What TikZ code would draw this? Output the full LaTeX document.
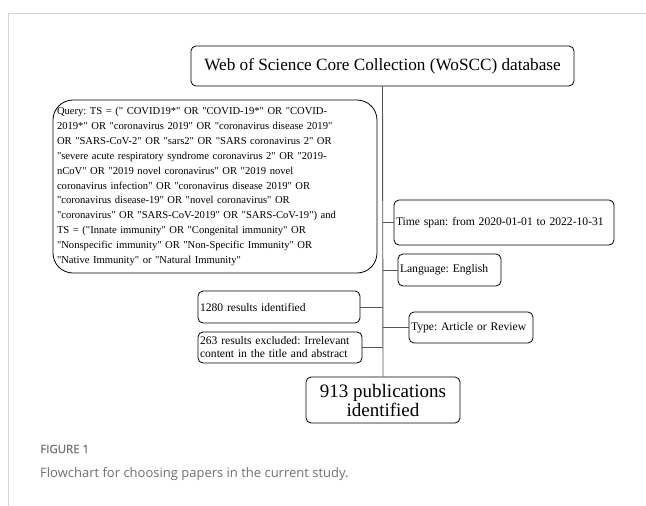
\documentclass[tikz,border=0pt]{standalone}
\usepackage{fontspec}
\setmainfont{Liberation Serif}[Ligatures=TeXOff]
\newfontfamily\captionfont{Open Sans}
\newfontfamily\fignumfont{Open Sans}[FakeBold=1.2]
\definecolor{framegrey}{HTML}{D2D2D2}
\definecolor{capgrey}{HTML}{707070}
\definecolor{linkgrey}{HTML}{555555}
\frenchspacing

\begin{document}
\begin{tikzpicture}[x=1pt,y=-1pt,
		box/.style={draw, rounded corners=5pt, line width=0.8pt, inner sep=2pt},
		leftbox/.style={box, align=left, font=\fontsize{11.6}{13.6}\selectfont},
		link/.style={draw=linkgrey, line width=0.9pt}]
		\useasboundingbox (0,0) rectangle (646,506);
		% page frame
		\draw[framegrey, line width=1pt] (8,506) -- (8,13) -- (646,13);
		% boxes
		\node[box, minimum width=383pt, minimum height=40pt, font=\fontsize{17.2}{19}\selectfont] (db) at (382.5,66) {Web of Science Core Collection (WoSCC) database};
		\node[leftbox, rounded corners=20pt, text width=316pt, minimum height=173pt, inner sep=4pt, font=\fontsize{10.6}{14.9}\selectfont] (query) at (215,186.5) {Query: TS = (" COVID19*" OR "COVID-19*" OR "COVID-\\
			2019*" OR "coronavirus 2019" OR "coronavirus disease 2019"\\
			OR "SARS-CoV-2" OR "sars2" OR "SARS coronavirus 2" OR\\
			"severe acute respiratory syndrome coronavirus 2" OR "2019-\\
			nCoV" OR "2019 novel coronavirus" OR "2019 novel\\
			coronavirus infection" OR "coronavirus disease 2019" OR\\
			"coronavirus disease-19" OR "novel coronavirus" OR\\
			"coronavirus" OR "SARS-CoV-2019" OR "SARS-CoV-19") and\\
			TS = ("Innate immunity" OR "Congenital immunity" OR\\
			"Nonspecific immunity" OR "Non-Specific Immunity" OR\\
			"Native Immunity" or "Natural Immunity"};
		\node[leftbox, text width=216pt, minimum height=45pt] (span) at (504,222.5) {Time span: from 2020-01-01 to 2022-10-31};
		\node[leftbox, text width=99pt, minimum height=32pt] (lang) at (449.5,270) {Language: English};
		\node[leftbox, text width=158pt, minimum height=32pt] (found) at (279,307) {1280 results identified};
		\node[leftbox, text width=120pt, minimum height=31pt] (type) at (471,327.5) {Type: Article or Review};
		\node[leftbox, text width=160pt, minimum height=31pt, font=\fontsize{11.6}{13}\selectfont] (excl) at (280,347.5) {263 results excluded: Irrelevant\\content in the title and abstract};
		\node[box, minimum width=154pt, minimum height=46pt, align=center, font=\fontsize{19}{19}\selectfont] (final) at (383,400) {913 publications\\identified};
		% connectors
		\draw[link] (db.south) -- (final.north);
		\foreach \b in {span,lang,type}
		{
			\draw[link] (\b.west) -- (\b.west -| db.south);
		}
		\foreach \b in {found,excl}
		{
			\draw[link] (\b.east) -- (\b.east -| db.south);
		}
		% caption
		\node[anchor=west, inner sep=0pt, text=capgrey, font=\fignumfont\fontsize{11.5}{13}\selectfont] (fignum) at (40,449) {FIGURE 1};
		\node[anchor=west, inner sep=0pt, text=capgrey, font=\captionfont\fontsize{13}{15}\selectfont] (figcap) at (40,474) {Flowchart for choosing papers in the current study.};
	\end{tikzpicture}
\end{document}
